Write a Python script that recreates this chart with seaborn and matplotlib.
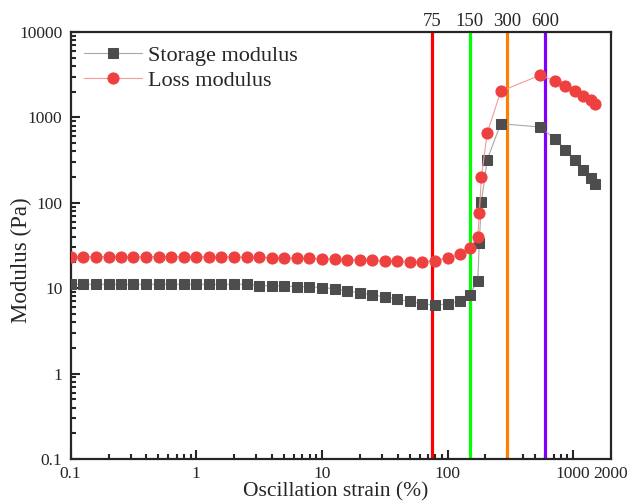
# Storage / loss modulus vs oscillation strain (amplitude sweep)
import pandas as pd
import numpy as np
from matplotlib import pyplot as plt
import seaborn as sns

# Datos
strain = [0.1, 0.126, 0.158, 0.2, 0.251, 0.316, 0.398, 0.501, 0.631, 0.794,
          1, 1.26, 1.58, 2, 2.51, 3.16, 3.98, 5.01, 6.31, 7.94,
          10, 12.6, 15.8, 20, 25.1, 31.6, 39.8, 50.1, 63.1, 79.4,
          100, 126, 150, 174, 179, 186, 207, 265, 542, 721,
          867, 1030, 1206, 1380, 1503]

storage = [11.1, 11.1, 11.1, 11.1, 11.1, 11.1, 11.1, 11.1, 11.1, 11.1,
           11.1, 11.1, 11.1, 11.1, 11.1, 10.7, 10.7, 10.6, 10.4, 10.4,
           10.15, 9.9, 9.27, 8.86, 8.3, 7.96, 7.41, 7.02, 6.53, 6.36,
           6.53, 7.15, 8.4, 12.2, 34, 103, 320, 843, 772, 559,
           419, 320, 244, 197, 167]

loss = [23.4, 23.4, 23.4, 23.4, 23.4, 23.4, 23.4, 23.4, 23.4, 23.4,
        23.4, 23.4, 23.4, 23.4, 23.0, 23.0, 22.8, 22.6, 22.6, 22.4,
        22.2, 22.0, 21.6, 21.4, 21.2, 20.8, 20.6, 20.5, 20.5, 21.0,
        22.4, 24.9, 29.3, 40, 75, 202, 656, 2020, 3110, 2670,
        2310, 2020, 1780, 1600, 1450]

# Líneas verticales de referencia
vlines = [75, 150, 300, 600]
vline_colors = ["#ff0000", "#00ff00", "#ff8000", "#8000ff"]

df = pd.DataFrame({"strain": strain, "storage": storage, "loss": loss})

sns.set_style("ticks")
plt.rcParams['font.family'] = ['Liberation Serif', 'DejaVu Serif']

fig = plt.figure(figsize=(6.3, 5.03), dpi=100)
ax = fig.add_axes([0.1122, 0.0875, 0.8576, 0.8489])

for xv, c in zip(vlines, vline_colors):
    ax.axvline(xv, color=c, lw=2.3, zorder=1)
    ax.text(xv, 1.005, str(xv), transform=ax.get_xaxis_transform(),
            ha="center", va="bottom", fontsize=13.5)

sns.lineplot(x="strain", y="storage", data=df, ax=ax, color="#a8a8a8", lw=0.8,
             marker="s", ms=7, markerfacecolor="#4d4d4d", markeredgecolor="#4d4d4d",
             label="Storage modulus", zorder=3)
sns.lineplot(x="strain", y="loss", data=df, ax=ax, color="#f59a9a", lw=0.8,
             marker="o", ms=8, markerfacecolor="#ef4040", markeredgecolor="#ef4040",
             label="Loss modulus", zorder=4)

ax.set_xscale("log")
ax.set_yscale("log")
ax.set_xlim(0.1, 2000)
ax.set_ylim(0.1, 10000)

xt = [0.1, 1, 10, 100, 1000, 2000]
ax.set_xticks(xt)
ax.set_xticklabels(["0.1", "1", "10", "100", "1000", "2000"])
yt = [0.1, 1, 10, 100, 1000, 10000]
ax.set_yticks(yt)
ax.set_yticklabels(["0.1", "1", "10", "100", "1000", "10000"])

ax.tick_params(which="major", direction="in", length=6.5, width=1.5, labelsize=12.5)
ax.tick_params(which="minor", direction="in", length=3.5, width=1.5)
ax.tick_params(axis="x", pad=5)
ax.tick_params(axis="y", pad=6)
for s in ax.spines.values():
    s.set_linewidth(1.6)
    s.set_visible(True)

ax.set_xlabel("Oscillation strain (%)", fontsize=15.5, va="top")
ax.xaxis.set_label_coords(0.49, -0.054)
ax.set_ylabel("Modulus (Pa)", fontsize=16.5)
ax.yaxis.set_label_coords(-0.072, 0.466)

ax.legend(loc="upper left", frameon=False, fontsize=16, handlelength=2.6,
          borderaxespad=0.2, labelspacing=0.2, handletextpad=0.3)

plt.savefig("out.png", dpi=100)
